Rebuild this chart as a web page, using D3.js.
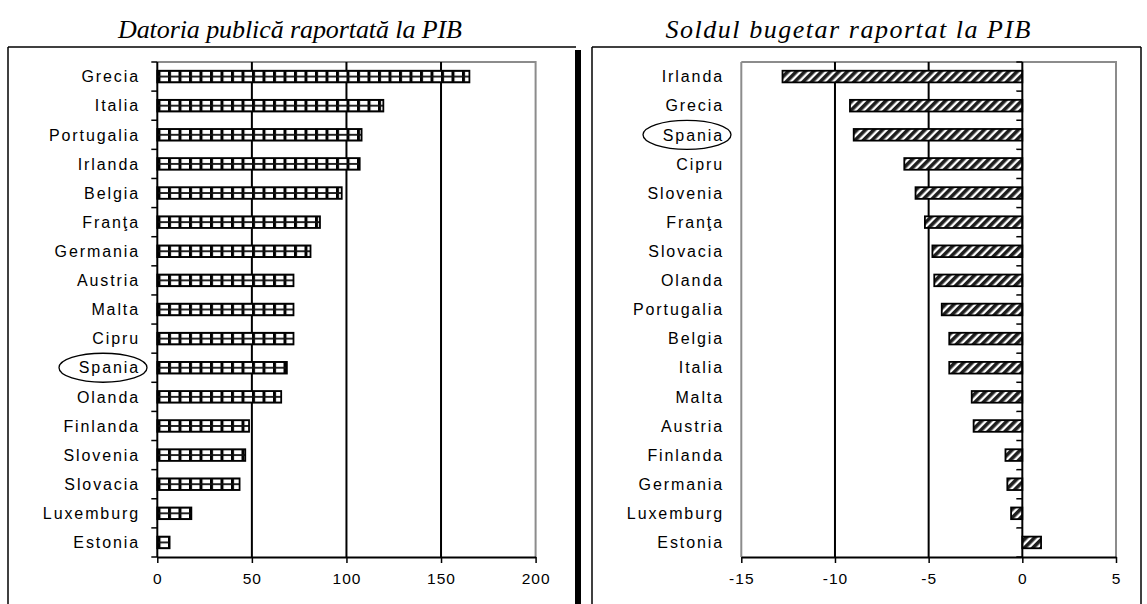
<!DOCTYPE html>
<html>
<head>
<meta charset="utf-8">
<script src="https://cdn.jsdelivr.net/npm/d3@7"></script>
<style>
    body { margin: 0; background: #ffffff; }
    #chart-container { width: 1147px; height: 604px; }
    .cat-label { font-family: "Liberation Sans", Arial, sans-serif; font-size: 16px; letter-spacing: 1.9px; fill: #000; }
    .tick-label { font-family: "Liberation Sans", Arial, sans-serif; font-size: 15.5px; letter-spacing: 1px; fill: #000; }
    .panel-title { font-family: "Liberation Serif", "DejaVu Serif", serif; font-style: italic; font-size: 26px; fill: #000; }
</style>
</head>
<body>
<div id="chart-container"></div>
<script>
// Datoria publica (% PIB)
const debtCountries = ["Grecia", "Italia", "Portugalia", "Irlanda", "Belgia", "Franţa", "Germania", "Austria",
    "Malta", "Cipru", "Spania", "Olanda", "Finlanda", "Slovenia", "Slovacia", "Luxemburg", "Estonia"];
const debtValues = [165, 119.5, 108, 107, 97.5, 86, 81, 72, 72, 72, 68.5, 65.5, 48.5, 46.5, 43.5, 18, 6.5];
const debtTicks = [0, 50, 100, 150, 200];

// Soldul bugetar (% PIB)
const balanceCountries = ["Irlanda", "Grecia", "Spania", "Cipru", "Slovenia", "Franţa", "Slovacia", "Olanda",
    "Portugalia", "Belgia", "Italia", "Malta", "Austria", "Finlanda", "Germania", "Luxemburg", "Estonia"];
const balanceValues = [-12.8, -9.2, -9.0, -6.3, -5.7, -5.2, -4.8, -4.7, -4.3, -3.9, -3.9, -2.7, -2.6, -0.9, -0.8, -0.6, 1.0];
const balanceTicks = [-15, -10, -5, 0, 5];

const circledCountry = "Spania";

var svg = d3.select("#chart-container")
    .append("svg")
    .attr("width", 1147)
    .attr("height", 604);

var defs = svg.append("defs");

// diagonal hatch for the budget balance bars
var hatch = defs.append("pattern")
    .attr("id", "hatch-fill")
    .attr("patternUnits", "userSpaceOnUse")
    .attr("width", 6)
    .attr("height", 10)
    .attr("patternTransform", "rotate(45)");
hatch.append("rect").attr("width", 6).attr("height", 10).attr("fill", "#ffffff");
hatch.append("rect").attr("width", 3.6).attr("height", 10).attr("fill", "#1e1e1e");

function make_grid_pattern(id, y) {
    // small grid, two rows of cells per bar (aligned on the band scale)
    var h = y.step() / 5;
    var grid = defs.append("pattern")
        .attr("id", id)
        .attr("patternUnits", "userSpaceOnUse")
        .attr("x", 0)
        .attr("y", y(y.domain()[0]))
        .attr("width", 10.5)
        .attr("height", h);
    grid.append("rect").attr("width", 10.5).attr("height", h).attr("fill", "#ffffff");
    grid.append("rect").attr("x", 0).attr("y", 0).attr("width", 3).attr("height", h).attr("fill", "#000");
    grid.append("rect").attr("x", 0).attr("y", -0.9).attr("width", 10.5).attr("height", 1.8).attr("fill", "#111");
    grid.append("rect").attr("x", 0).attr("y", h - 0.9).attr("width", 10.5).attr("height", 0.9).attr("fill", "#111");
    return "url(#" + id + ")";
}

function draw_frame(x0, x1, top) {
    svg.append("line")
        .attr("x1", x0).attr("x2", x0)
        .attr("y1", top).attr("y2", 604)
        .attr("stroke", "#000").attr("stroke-width", 1.5);
    svg.append("line")
        .attr("x1", x0).attr("x2", x1)
        .attr("y1", top).attr("y2", top)
        .attr("stroke", "#000").attr("stroke-width", 1.5);
}

function draw_title(text, cx, width) {
    svg.append("text")
        .attr("class", "panel-title")
        .attr("x", cx)
        .attr("y", 38)
        .attr("text-anchor", "middle")
        .attr("textLength", width)
        .attr("lengthAdjust", "spacing")
        .text(text);
}

function draw_panel(opts) {
    var x = d3.scaleLinear()
        .domain(opts.domain)
        .range([opts.left, opts.right]);
    var y = d3.scaleBand()
        .domain(opts.countries)
        .range([opts.top, opts.bottom])
        .paddingInner(0.6)
        .paddingOuter(0.3);

    var fill = opts.fill || make_grid_pattern(opts.id + "-grid", y);

    var g = svg.append("g");

    // plot area border (grey)
    g.append("path")
        .attr("d", `M${x(opts.domain[0])},${opts.top}H${x(opts.domain[1])}V${opts.bottom}`)
        .attr("fill", "none")
        .attr("stroke", "#8c8c8c")
        .attr("stroke-width", 2);
    if (opts.domain[0] < 0) {
        g.append("line")
            .attr("x1", x(opts.domain[0])).attr("x2", x(opts.domain[0]))
            .attr("y1", opts.top).attr("y2", opts.bottom)
            .attr("stroke", "#8c8c8c").attr("stroke-width", 2);
    }

    // vertical gridlines
    g.selectAll(".grid")
        .data(opts.ticks.filter(d => d !== opts.domain[0] && d !== opts.domain[1] && d !== 0))
        .enter()
        .append("line")
        .attr("x1", d => x(d)).attr("x2", d => x(d))
        .attr("y1", opts.top).attr("y2", opts.bottom)
        .attr("stroke", "#000")
        .attr("stroke-width", 2);

    // bars
    g.selectAll(".bar")
        .data(opts.countries.map((c, i) => ({ name: c, value: opts.values[i] })))
        .enter()
        .append("rect")
        .attr("x", d => x(Math.min(0, d.value)))
        .attr("y", d => y(d.name))
        .attr("width", d => Math.abs(x(d.value) - x(0)))
        .attr("height", y.bandwidth())
        .attr("fill", fill)
        .attr("stroke", "#000")
        .attr("stroke-width", 1.8);

    // category axis at zero with ticks on band boundaries
    g.append("line")
        .attr("x1", x(0)).attr("x2", x(0))
        .attr("y1", opts.top).attr("y2", opts.bottom)
        .attr("stroke", "#000").attr("stroke-width", 2);
    g.selectAll(".ytick")
        .data(d3.range(opts.countries.length + 1))
        .enter()
        .append("line")
        .attr("x1", x(0) - 6).attr("x2", x(0))
        .attr("y1", i => opts.top + i * y.step())
        .attr("y2", i => opts.top + i * y.step())
        .attr("stroke", "#000").attr("stroke-width", 1.5);

    // category labels at the left of the plot area
    g.selectAll(".cat-label")
        .data(opts.countries)
        .enter()
        .append("text")
        .attr("class", "cat-label")
        .attr("x", opts.labelX)
        .attr("y", d => y(d) + y.bandwidth() / 2)
        .attr("dy", "0.36em")
        .attr("text-anchor", "end")
        .text(d => d);

    // value axis
    var xAxis = d3.axisBottom(x)
        .tickValues(opts.ticks)
        .tickSize(6)
        .tickSizeOuter(0)
        .tickPadding(10)
        .tickFormat(d3.format("d"));
    var ax = g.append("g")
        .attr("transform", `translate(0,${opts.bottom})`)
        .call(xAxis);
    ax.select(".domain").attr("stroke", "#000").attr("stroke-width", 2);
    ax.selectAll(".tick line").attr("stroke", "#000").attr("stroke-width", 1.5);
    ax.selectAll(".tick text")
        .attr("class", "tick-label")
        .attr("font-family", null)
        .attr("font-size", null)
        .text(d => d < 0 ? "-" + Math.abs(d) : d);

    // circle around the highlighted country
    g.append("ellipse")
        .attr("cx", opts.labelX - 37)
        .attr("cy", y(circledCountry) + y.bandwidth() / 2)
        .attr("rx", 44)
        .attr("ry", 14.5)
        .attr("fill", "none")
        .attr("stroke", "#000")
        .attr("stroke-width", 1.3);
}

// frames
draw_frame(8, 576, 47);
svg.append("rect")
    .attr("x", 575).attr("y", 50)
    .attr("width", 6).attr("height", 554)
    .attr("fill", "#000");
draw_frame(592, 1141, 47);
svg.append("line")
    .attr("x1", 1141).attr("x2", 1141)
    .attr("y1", 47).attr("y2", 604)
    .attr("stroke", "#000").attr("stroke-width", 1.5);

draw_title("Datoria publică raportată la PIB", 290, 344);
draw_title("Soldul bugetar raportat la PIB", 848, 365);

draw_panel({
    id: "debt",
    countries: debtCountries, values: debtValues, ticks: debtTicks,
    domain: [0, 200], left: 157.3, right: 535.6, top: 62, bottom: 557,
    labelX: 140
});

draw_panel({
    id: "balance",
    countries: balanceCountries, values: balanceValues, ticks: balanceTicks,
    domain: [-15, 5], left: 741.3, right: 1116, top: 62, bottom: 557,
    labelX: 724, fill: "url(#hatch-fill)"
});
</script>
</body>
</html>
